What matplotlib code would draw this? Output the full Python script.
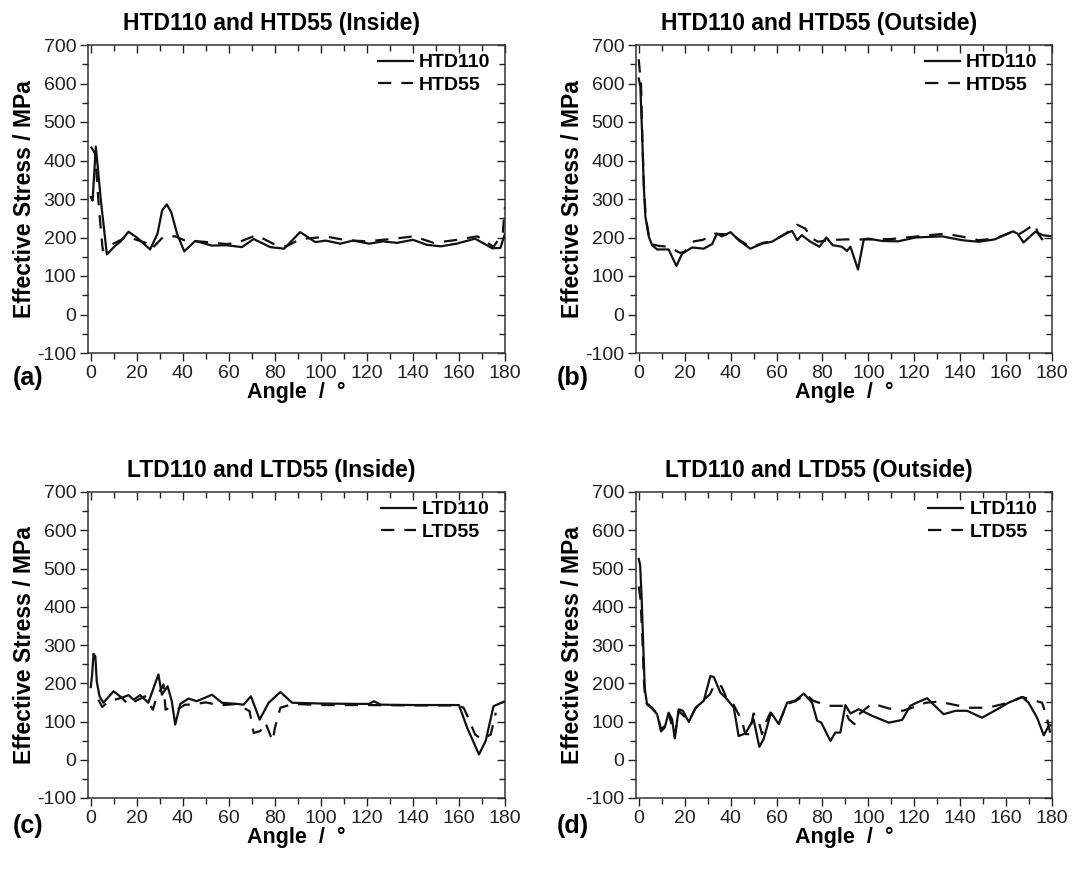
import matplotlib
matplotlib.use("Agg")
import matplotlib.pyplot as plt
from matplotlib.ticker import MultipleLocator

plt.rcParams['font.family'] = ['Liberation Sans', 'DejaVu Sans']
plt.rcParams['axes.unicode_minus'] = False

# ---------------- data ----------------
# (a) HTD Inside
a_110_x = [0, 0.8, 2.2, 4.5, 7, 10, 13, 16.4, 20, 25.8, 29, 31, 33, 35, 37.5, 40.6, 45.4, 52.6, 59, 65.7, 70.8, 78, 84, 91, 97.6, 102, 108.5, 114, 121, 127, 133, 140, 146, 152, 159, 167, 174.5, 178, 180]
a_110_y = [305, 296, 436, 290, 156, 175, 190, 215, 200, 169, 210, 270, 286, 265, 210, 164, 191, 179, 180, 175, 196, 175, 171, 214, 188, 192, 184, 192, 184, 190, 186, 194, 181, 177, 184, 197, 172, 173, 210]
a_55_x = [0, 1.9, 3.5, 5.2, 7.7, 15.7, 24, 26.5, 31.6, 36.7, 40.6, 49, 59, 63.5, 72, 79.5, 85, 91, 102.7, 111, 120, 132, 140.4, 149, 158, 168, 175, 179, 180]
a_55_y = [436, 418, 280, 167, 177, 202, 186, 171, 202, 203, 193, 189, 183, 186, 206, 183, 177, 196, 202, 193, 190, 197, 203, 186, 193, 203, 176, 210, 280]

# (b) HTD Outside
b_110_x = [0, 0.7, 1.5, 2.2, 2.9, 4.4, 5.8, 8, 13, 16.4, 18.9, 23.2, 28.3, 32, 34, 36.3, 40, 43.5, 48.6, 53.7, 58, 64, 66.8, 69, 71, 74.8, 78.7, 81.7, 84.5, 88.5, 90.7, 92.2, 95.5, 98, 100, 106, 113, 120.5, 132, 140.8, 148, 155, 163, 165, 167.6, 172.7, 176, 180]
b_110_y = [613, 592, 462, 332, 254, 202, 180, 169, 169, 126, 158, 174, 171, 183, 210, 203, 214, 193, 171, 184, 189, 210, 217, 193, 206, 189, 176, 200, 180, 176, 165, 176, 117, 195, 197, 191, 190, 200, 203, 193, 189, 195, 216, 210, 187, 215, 206, 203]
b_55_x = [0, 0.4, 1, 1.5, 2.2, 3, 4.4, 5.8, 9, 13, 18, 20, 24, 28, 33, 38, 40, 44, 49, 54, 58, 64, 69, 72.6, 75, 78, 82.7, 90, 100, 110, 120, 133.5, 141, 148, 155, 163, 165, 168, 172.4, 174, 177]
b_55_y = [663, 635, 600, 470, 340, 255, 205, 182, 178, 176, 160, 163, 190, 194, 210, 208, 212, 193, 174, 186, 190, 210, 233, 223, 200, 189, 193, 195, 195, 196, 202, 210, 202, 193, 197, 215, 206, 217, 235, 210, 184]

# (c) LTD Inside
c_110_x = [0, 0.6, 1.2, 2, 2.6, 3.8, 5.5, 9.9, 13.5, 16.4, 18.6, 21.5, 25, 29.4, 30.9, 33.4, 35.2, 36.7, 38.9, 42.5, 46, 52.7, 57, 63.5, 66.4, 69.6, 73.4, 77.3, 82.4, 87.5, 100, 115, 121, 123, 126, 140, 150, 160, 163.6, 168.7, 171.6, 175, 180]
c_110_y = [190, 223, 277, 270, 205, 166, 149, 179, 162, 169, 157, 169, 149, 223, 170, 192, 153, 92, 146, 160, 153, 170, 149, 146, 144, 166, 105, 149, 177, 149, 147, 146, 146, 153, 144, 143, 143, 143, 83, 14, 49, 140, 153]
c_55_x = [3.3, 5, 7.7, 13.5, 16.4, 19.3, 23.6, 27, 28.7, 31.6, 32.5, 34.5, 37.4, 41, 44, 50, 56, 63.5, 69, 70.8, 73.7, 75.9, 79, 80, 82.4, 88, 100, 120, 140, 160, 162, 164, 167, 170, 173.8, 176]
c_55_y = [157, 138, 153, 162, 144, 153, 166, 131, 166, 197, 131, 136, 131, 144, 144, 150, 142, 146, 127, 70, 75, 97, 49, 83, 136, 146, 143, 143, 142, 142, 136, 110, 66, 53, 66, 123]

# (d) LTD Outside
d_110_x = [0, 0.6, 1.2, 1.9, 2.6, 3.6, 5.8, 8, 9.7, 11.3, 13, 14.5, 15.7, 17.4, 19.2, 21.8, 24.7, 28.3, 31.2, 32.7, 35.6, 38.5, 41.4, 43.5, 46.5, 50, 52.5, 54.4, 57.6, 61, 64.6, 68.2, 71.9, 75.5, 77.7, 79.5, 83.5, 85.6, 87.8, 90, 92.2, 95.8, 101.6, 108.9, 114.7, 118.3, 121, 125.6, 129, 132.8, 138, 143, 149.5, 155, 161, 167, 169.8, 173.5, 176.4, 178.5, 180]
d_110_y = [525, 509, 431, 310, 188, 145, 134, 119, 74, 84, 123, 106, 56, 132, 128, 99, 136, 154, 219, 216, 175, 158, 136, 62, 69, 106, 34, 54, 123, 93, 149, 155, 173, 149, 102, 97, 49, 71, 71, 143, 121, 132, 115, 97, 104, 141, 149, 161, 141, 119, 128, 128, 110, 128, 149, 164, 149, 110, 64, 88, 91]
d_55_x = [0, 0.7, 1.5, 2.3, 3, 5.8, 8, 9.7, 11.3, 13, 15.7, 17.4, 21.8, 24.7, 29, 31, 33, 36, 38.5, 41.4, 45, 46.4, 48.2, 50, 52.2, 53.7, 55, 57.3, 61, 64.6, 68.2, 73, 76, 82.7, 89, 91.5, 94, 96, 101.6, 109, 115, 119, 125, 130.6, 138, 143.7, 152, 161, 167, 175.7, 177.8, 179.3]
d_55_y = [453, 423, 330, 200, 150, 136, 121, 80, 88, 120, 62, 128, 101, 134, 160, 171, 197, 192, 158, 143, 101, 67, 67, 121, 101, 67, 93, 123, 95, 146, 153, 171, 154, 141, 141, 106, 93, 119, 147, 134, 128, 136, 149, 152, 143, 136, 136, 149, 164, 149, 110, 67]

titles = ["HTD110 and HTD55 (Inside)", "HTD110 and HTD55 (Outside)",
          "LTD110 and LTD55 (Inside)", "LTD110 and LTD55 (Outside)"]
names = [("HTD110", "HTD55"), ("HTD110", "HTD55"), ("LTD110", "LTD55"), ("LTD110", "LTD55")]
panel_tags = ["(a)", "(b)", "(c)", "(d)"]
series = [(a_110_x, a_110_y, a_55_x, a_55_y),
          (b_110_x, b_110_y, b_55_x, b_55_y),
          (c_110_x, c_110_y, c_55_x, c_55_y),
          (d_110_x, d_110_y, d_55_x, d_55_y)]

W, H = 1075, 873
fig = plt.figure(figsize=(W / 100, H / 100), dpi=100)

# pixel boxes (left, top, right, bottom)
boxes = [(88, 45, 505, 353), (636, 45, 1052, 353),
         (88, 492, 505, 798), (636, 492, 1052, 798)]
tag_pos = [(28, 378), (573, 378), (28, 826), (573, 826)]

for i, (l, t, r, b) in enumerate(boxes):
    ax = fig.add_axes([l / W, 1 - b / H, (r - l) / W, (b - t) / H])
    x1, y1, x2, y2 = series[i]
    ax.plot(x1, y1, color='#111111', lw=1.6, label=names[i][0])
    ax.plot(x2, y2, color='#111111', lw=1.6, dashes=(6, 4.5), label=names[i][1])
    ax.set_xlim(-1.2, 180)
    ax.set_ylim(-100, 700)
    ax.xaxis.set_major_locator(MultipleLocator(20))
    ax.xaxis.set_minor_locator(MultipleLocator(10))
    ax.yaxis.set_major_locator(MultipleLocator(100))
    ax.yaxis.set_minor_locator(MultipleLocator(50))
    ax.tick_params(which='both', direction='out', labelsize=14, colors='#222222', pad=2.5)
    ax.tick_params(which='major', length=6, width=1)
    ax.tick_params(which='minor', length=4, width=1)
    ax.tick_params(which='both', top=True, right=True)
    for s in ax.spines.values():
        s.set_color('#333333')
        s.set_linewidth(1.1)
    # top/right inward
    for tk in ax.xaxis.get_major_ticks() + ax.xaxis.get_minor_ticks():
        tk.tick2line.set_marker(3)
    for tk in ax.yaxis.get_major_ticks() + ax.yaxis.get_minor_ticks():
        tk.tick2line.set_marker(0)
    ax.set_title(titles[i], fontsize=16.5, fontweight='bold', pad=11, x=0.44)
    ax.set_xlabel("Angle  /  °", fontsize=15.5, fontweight='bold', labelpad=0)
    ax.set_ylabel("Effective Stress / MPa", fontsize=16.5, fontweight='bold', labelpad=1)
    leg = ax.legend(loc='upper right', bbox_to_anchor=(0.985, 1.0), frameon=False,
                    prop={'weight': 'bold', 'size': 14},
                    handlelength=1.8, handletextpad=0.3, labelspacing=0.25,
                    borderaxespad=0.05)
    fig.text(tag_pos[i][0] / W, 1 - tag_pos[i][1] / H, panel_tags[i], fontsize=18,
             fontweight='bold', ha='center', va='center')

fig.savefig("out.png", dpi=100)
